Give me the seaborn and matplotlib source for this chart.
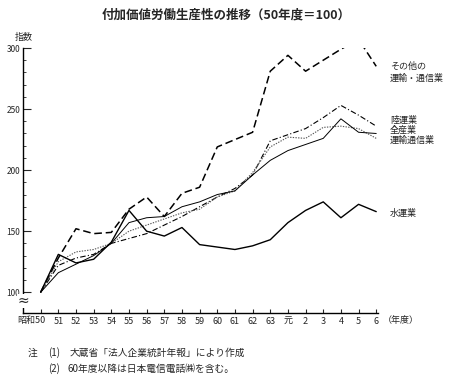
import matplotlib
matplotlib.use("Agg")
import matplotlib.pyplot as plt
import matplotlib.transforms as mtrans
import seaborn as sns
import pandas as pd
import numpy as np
from matplotlib.ticker import MultipleLocator

years = ["昭和50", "51", "52", "53", "54", "55", "56", "57", "58", "59",
         "60", "61", "62", "63", "元", "2", "3", "4", "5", "6"]
other = [100, 128, 152, 148, 149, 168, 178, 162, 181, 186,
         219, 225, 231, 281, 294, 281, 290, 299, 307, 285]
rikuun = [100, 122, 128, 131, 140, 144, 148, 155, 162, 170,
          178, 185, 196, 224, 229, 234, 243, 253, 245, 236]
zensangyo = [100, 125, 133, 135, 140, 150, 155, 160, 165, 168,
             178, 183, 198, 219, 227, 226, 235, 236, 234, 226]
unyu = [100, 116, 123, 130, 140, 157, 161, 162, 170, 174,
        180, 183, 196, 208, 216, 221, 226, 242, 231, 230]
suiun = [100, 131, 124, 127, 141, 167, 150, 146, 153, 139,
         137, 135, 138, 143, 157, 167, 174, 161, 172, 166]

sns.set_theme(style="white")
plt.rcParams['font.family'] = ['Noto Sans CJK JP', 'DejaVu Sans']

fig = plt.figure(figsize=(4.59, 3.91), dpi=100)
ax = fig.add_axes([23/459, 1 - 313/391, (378 - 23)/459, (313 - 48)/391])

x = np.arange(len(years))
series = [
    (other, dict(color="black", lw=1.1, linestyle=(0, (5, 2.5)))),
    (rikuun, dict(color="black", lw=0.8, linestyle=(0, (5, 2, 1, 2)))),
    (zensangyo, dict(color="#555555", lw=0.8, linestyle=(0, (1.2, 1.2)))),
    (unyu, dict(color="black", lw=0.7, linestyle="-")),
    (suiun, dict(color="black", lw=1.0, linestyle="-")),
]
for vals, kw in series:
    df = pd.DataFrame({"x": x, "y": vals})
    sns.lineplot(data=df, x="x", y="y", ax=ax, **kw)

ax.set_xlim(-1.0, 19.1)
ax.set_ylim(83, 300)
for s in ["top", "right"]:
    ax.spines[s].set_visible(False)
for s in ["left", "bottom"]:
    ax.spines[s].set_color("black")
    ax.spines[s].set_linewidth(1.0)

ax.set_xticks(x)
ax.set_xticklabels([""] + years[1:], fontsize=6.5)
trans = mtrans.blended_transform_factory(ax.transData, ax.transAxes)
ax.text(0.3, -0.012, years[0], transform=trans, ha='right', va='top', fontsize=6.5)

ax.set_yticks([100, 150, 200, 250, 300])
ax.set_yticklabels(["100", "150", "200", "250", "300"], fontsize=6)
ax.yaxis.set_minor_locator(MultipleLocator(10))
ax.tick_params(axis='y', which='major', direction='in', length=6, width=0.8, pad=2, left=True)
ax.tick_params(axis='y', which='minor', direction='in', length=2.5, width=0.6, left=True)
ax.tick_params(axis='x', which='major', direction='in', length=3, width=0.8, pad=3, bottom=True)
ax.set_xlabel("")
ax.set_ylabel("")
ax.grid(False)

# axis break mark
ax.text(-1.0, 93, "≈", fontsize=10, ha='center', va='center',
        bbox=dict(facecolor='white', edgecolor='none', pad=0.2), zorder=5,
        family=['DejaVu Sans'])

fig.text(226/459, 1 - 15/391, "付加価値労働生産性の推移（50年度＝100）",
         ha='center', va='center', fontsize=9, fontweight='bold')
fig.text(24/459, 1 - 37/391, "指数", ha='center', va='center', fontsize=6.5)
fig.text(383/459, 1 - 320/391, "（年度）", ha='left', va='center', fontsize=6.5)

lab = dict(ha='left', va='center', fontsize=6.5)
fig.text(390/459, 1 - 66/391, "その他の", **lab)
fig.text(390/459, 1 - 78/391, "運輸・通信業", **lab)
fig.text(390/459, 1 - 120/391, "陸運業", **lab)
fig.text(390/459, 1 - 130/391, "全産業", **lab)
fig.text(390/459, 1 - 140/391, "運輸通信業", **lab)
fig.text(390/459, 1 - 213/391, "水運業", **lab)

note = dict(ha='left', va='center', fontsize=7)
fig.text(28/459, 1 - 353/391, "注", **note)
fig.text(48/459, 1 - 353/391, "(1)", **note)
fig.text(70/459, 1 - 353/391, "大蔵省「法人企業統計年報」により作成", **note)
fig.text(48/459, 1 - 369/391, "(2)", **note)
fig.text(67/459, 1 - 369/391, "60年度以降は日本電信電話㈱を含む。", **note)

fig.savefig("out.png", dpi=100)
